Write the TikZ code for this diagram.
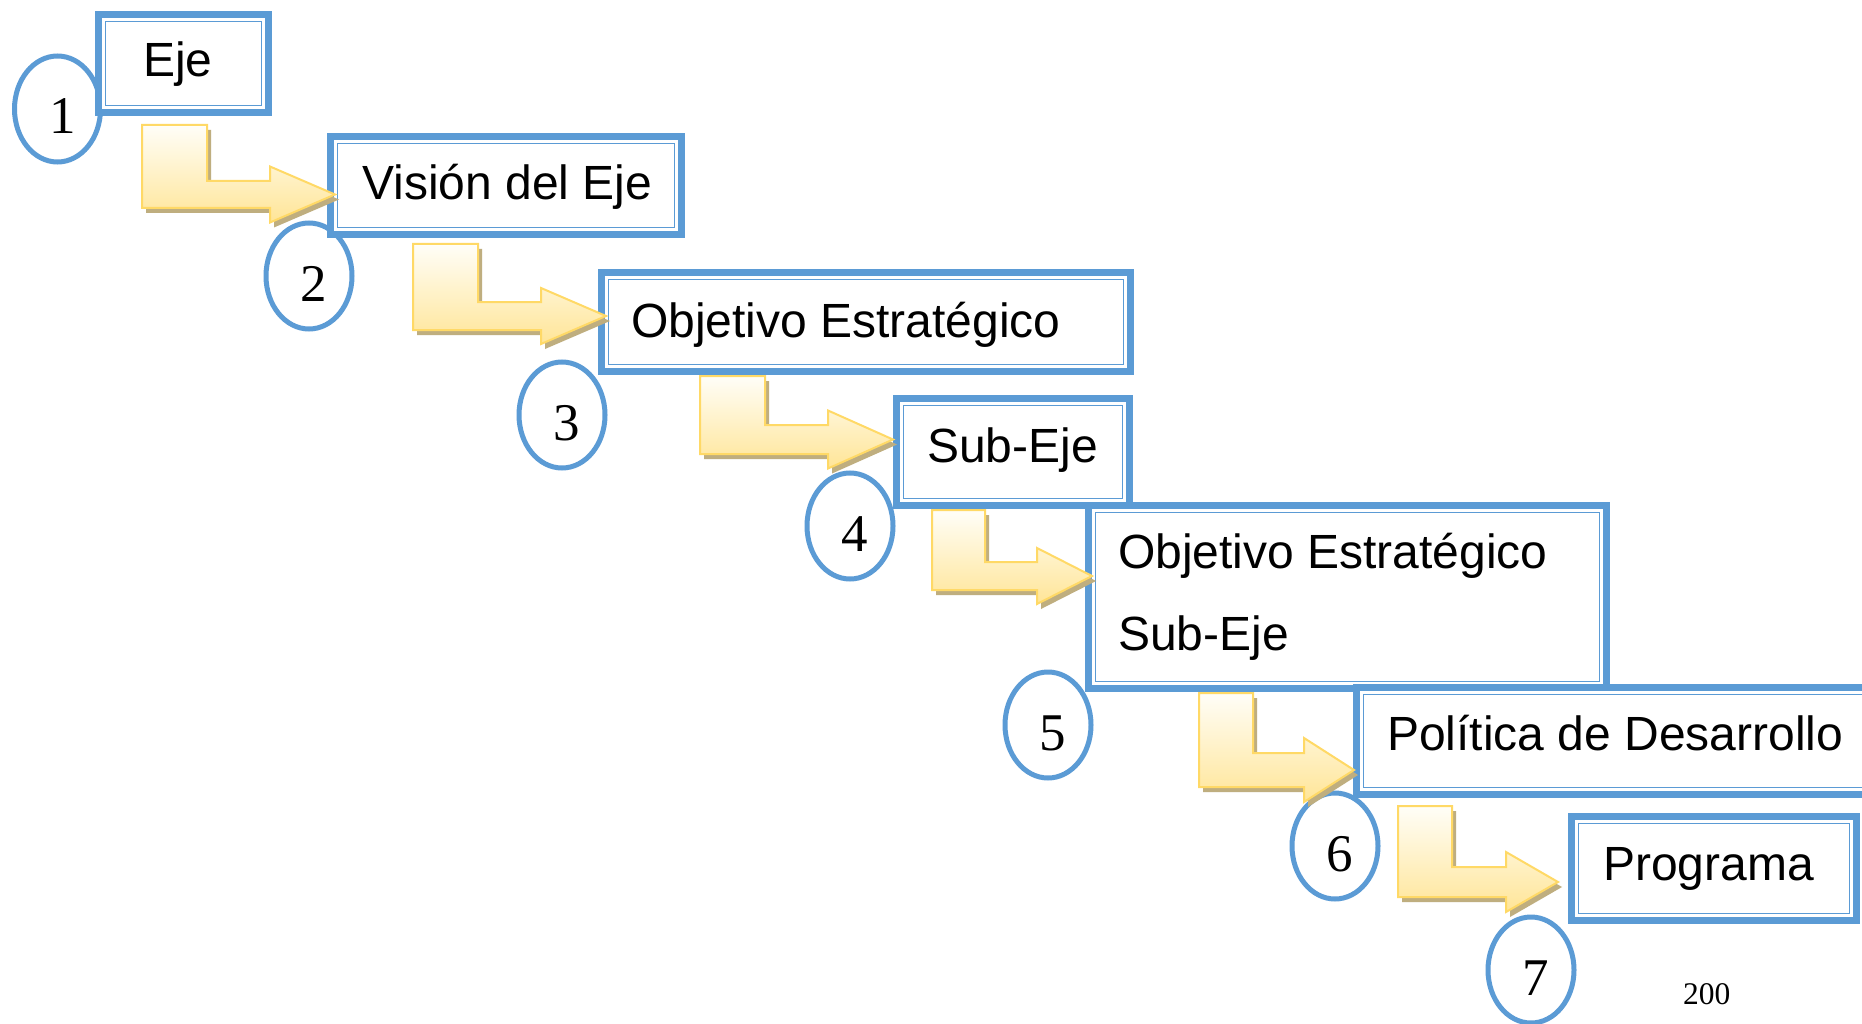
\documentclass[tikz,border=0pt]{standalone}
\usepackage{fontspec}
\setmainfont{Liberation Serif}
\newfontfamily\arialf{Liberation Sans}
\usetikzlibrary{shapes.geometric}
\definecolor{boxblue}{HTML}{5B9BD5}
\definecolor{arrowedge}{HTML}{FFD966}
\definecolor{arrowtop}{HTML}{FFFEF8}
\definecolor{arrowbot}{HTML}{FFE597}
\definecolor{shadowtan}{HTML}{BFAE7F}
\tikzset{
  boxnode/.style={draw=boxblue, line width=7pt, fill=white, inner sep=0pt, outer sep=0pt, anchor=north west},
  innerline/.style={draw=boxblue, line width=1.8pt},
  lbl/.style={font=\arialf\fontsize{48}{58}\selectfont, anchor=base west, inner sep=0pt},
  numring/.style={ellipse, draw=boxblue, line width=5pt, fill=white, minimum width=86pt, minimum height=106pt, inner sep=0pt},
  numtext/.style={font=\fontsize{53}{60}\selectfont, anchor=base, inner sep=0pt},
  arrowbody/.style={draw=arrowedge, line width=2pt, top color=arrowtop, bottom color=arrowbot},
}
% name, left, top, right, bottom (outer edges, pixels)
\newcommand\mkbox[5]{%
  \node[boxnode, minimum width={(#4-#2-7)*1pt}, minimum height={(#5-#3-7)*1pt}] (#1) at ({#2+3.5},{#3+3.5}) {};
  \draw[innerline] ([shift={(7,7)}]#1.north west) rectangle ([shift={(-7,-7)}]#1.south east);
}
% left, top, vbar right, hbar top, hbar bottom, head base x, head half height, tip x
\newcommand\mkarrow[8]{%
  \begin{scope}[shift={(4,5)}]
    \fill[shadowtan] (#1,#2) -- (#3,#2) -- (#3,#4) -- (#6,#4) -- (#6,{(#4+#5)/2-#7}) -- (#8,{(#4+#5)/2}) -- (#6,{(#4+#5)/2+#7}) -- (#6,#5) -- (#1,#5) -- cycle;
  \end{scope}
  \path[arrowbody] (#1,#2) -- (#3,#2) -- (#3,#4) -- (#6,#4) -- (#6,{(#4+#5)/2-#7}) -- (#8,{(#4+#5)/2}) -- (#6,{(#4+#5)/2+#7}) -- (#6,#5) -- (#1,#5) -- cycle;
}
\begin{document}
\begin{tikzpicture}[x=1pt,y=-1pt]
  \fill[white] (0,0) rectangle (1862,1024);
  \useasboundingbox (0,0) rectangle (1862,1024);
  \clip (0,0) rectangle (1862,1024);
  % number rings
  \node[numring] (c1) at (57.5,109) {};
  \node[numring] (c2) at (309,276) {};
  \node[numring] (c3) at (562,415) {};
  \node[numring] (c4) at (850,526) {};
  \node[numring] (c5) at (1048,725) {};
  \node[numring] (c6) at (1335,846) {};
  \node[numring] (c7) at (1531,970) {};
  % boxes
  \mkbox{b1}{95}{11}{272}{116}
  \mkbox{b2}{327}{133}{685}{238}
  \mkbox{b3}{598}{269}{1134}{375}
  \mkbox{b4}{893}{395}{1133}{509}
  \mkbox{b5}{1085}{502}{1610}{692}
  \mkbox{b6}{1353}{684}{1880}{798}
  \mkbox{b7}{1568}{813}{1860}{924}
  % bent arrows
  \mkarrow{142}{125}{207}{181}{208}{270}{28}{335}
  \mkarrow{413}{244}{478}{302}{330}{541}{28}{606}
  \mkarrow{700}{376}{765}{425}{454}{828}{29}{893}
  \mkarrow{932}{510}{985}{562}{590}{1037}{28}{1092}
  \mkarrow{1199}{693}{1253}{753}{787}{1304}{32}{1354}
  \mkarrow{1398}{806}{1452}{867}{897}{1506}{30}{1558}
  % texts
  \node[lbl] (t1) at (143,77) {Eje};
  \node[lbl] (t2) at (362,200) {Visión del Eje};
  \node[lbl] (t3) at (631,337) {Objetivo Estratégico};
  \node[lbl] (t4) at (927,462) {Sub-Eje};
  \node[lbl] (t5a) at (1118,568) {Objetivo Estratégico};
  \node[lbl] (t5b) at (1118,650) {Sub-Eje};
  \node[lbl] (t6) at (1387,750) {Política de Desarrollo};
  \node[lbl] (t7) at (1603,880) {Programa};
  % numbers
  \node[numtext] (n1) at ([shift={(5,25)}]c1.center) {1};
  \node[numtext] (n2) at ([shift={(5,25)}]c2.center) {2};
  \node[numtext] (n3) at ([shift={(5,25)}]c3.center) {3};
  \node[numtext] (n4) at ([shift={(5,25)}]c4.center) {4};
  \node[numtext] (n5) at ([shift={(5,25)}]c5.center) {5};
  \node[numtext] (n6) at ([shift={(5,25)}]c6.center) {6};
  \node[numtext] (n7) at ([shift={(5,25)}]c7.center) {7};
  \node[font=\fontsize{31.5}{36}\selectfont, anchor=base west, inner sep=0pt] (pg) at (1683,1004) {200};
\end{tikzpicture}
\end{document}
